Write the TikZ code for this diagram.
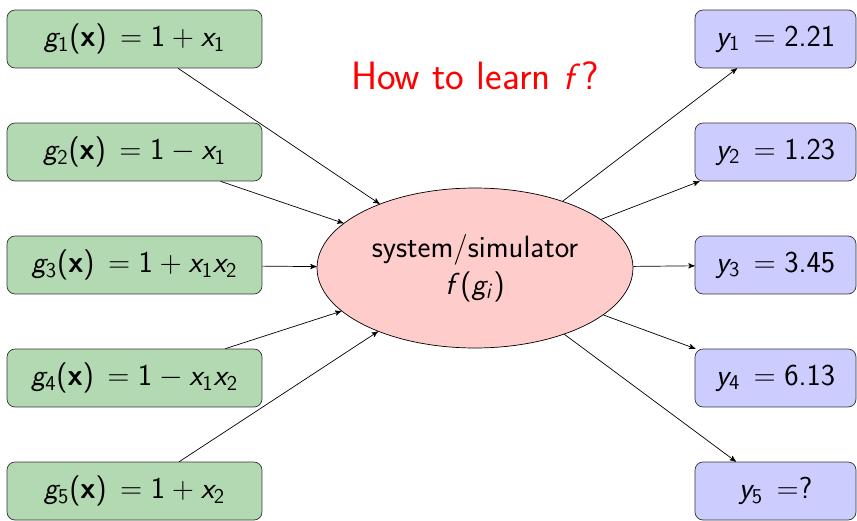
\documentclass[tikz,border=0pt]{standalone}
\usepackage{amsmath}
\usepackage{xcolor}
\usepackage{tikz}
\usetikzlibrary{arrows, shapes.geometric}
\renewcommand{\familydefault}{\sfdefault}
% sans math, slide style
\SetSymbolFont{operators}{normal}{OT1}{cmss}{m}{n}
\SetSymbolFont{letters}{normal}{OT1}{cmss}{m}{sl}
\SetMathAlphabet{\mathbf}{normal}{OT1}{cmss}{bx}{n}
\DeclareMathSymbol{.}{\mathord}{operators}{"2E}
\tikzset{->,>=stealth',
x=0.02cm, y=-0.02cm,
inbox/.style={draw=black!80, fill=green!50!black!30, rounded corners=0.16cm,
  minimum width=5.1cm, minimum height=1.16cm},
outbox/.style={draw=black!80, fill=blue!20, rounded corners=0.16cm,
  minimum width=3.22cm, minimum height=1.16cm},
sysnode/.style={draw, fill=red!20, ellipse, minimum width=6.32cm, minimum height=3.2cm,
  align=center}}

\begin{document}
\begin{tikzpicture}[font=\fontsize{17.5}{21}\selectfont]
\useasboundingbox (0,0) rectangle (857,520);
\node[sysnode] (sys) at (475,268) {system/simulator\\$f(g_i)$};
\node[text=red, font=\fontsize{22.5}{27}\selectfont] (q) at (475,76) {How to learn $f$?};
%inputs
\node[inbox] (g1) at (134.5,39) {$g_1(\mathbf{x})\,=1+x_1$};
\node[inbox] (g2) at (134.5,152) {$g_2(\mathbf{x})\,=1-x_1$};
\node[inbox] (g3) at (134.5,265) {$g_3(\mathbf{x})\,=1+x_1x_2$};
\node[inbox] (g4) at (134.5,378) {$g_4(\mathbf{x})\,=1-x_1x_2$};
\node[inbox] (g5) at (134.5,491) {$g_5(\mathbf{x})\,=1+x_2$};
%outputs
\node[outbox] (y1) at (775.5,39) {$y_1\,=2.21$};
\node[outbox] (y2) at (775.5,152) {$y_2\,=1.23$};
\node[outbox] (y3) at (775.5,265) {$y_3\,=3.45$};
\node[outbox] (y4) at (775.5,378) {$y_4\,=6.13$};
\node[outbox] (y5) at (775.5,491) {$y_5\,=?$};
\draw
(g1) edge (sys)
(g2) edge (sys)
(g3) edge (sys)
(g4) edge (sys)
(g5) edge (sys)
(sys) edge (y1)
(sys) edge (y2)
(sys) edge (y3)
(sys) edge (y4)
(sys) edge (y5)
;
\end{tikzpicture}
\end{document}
